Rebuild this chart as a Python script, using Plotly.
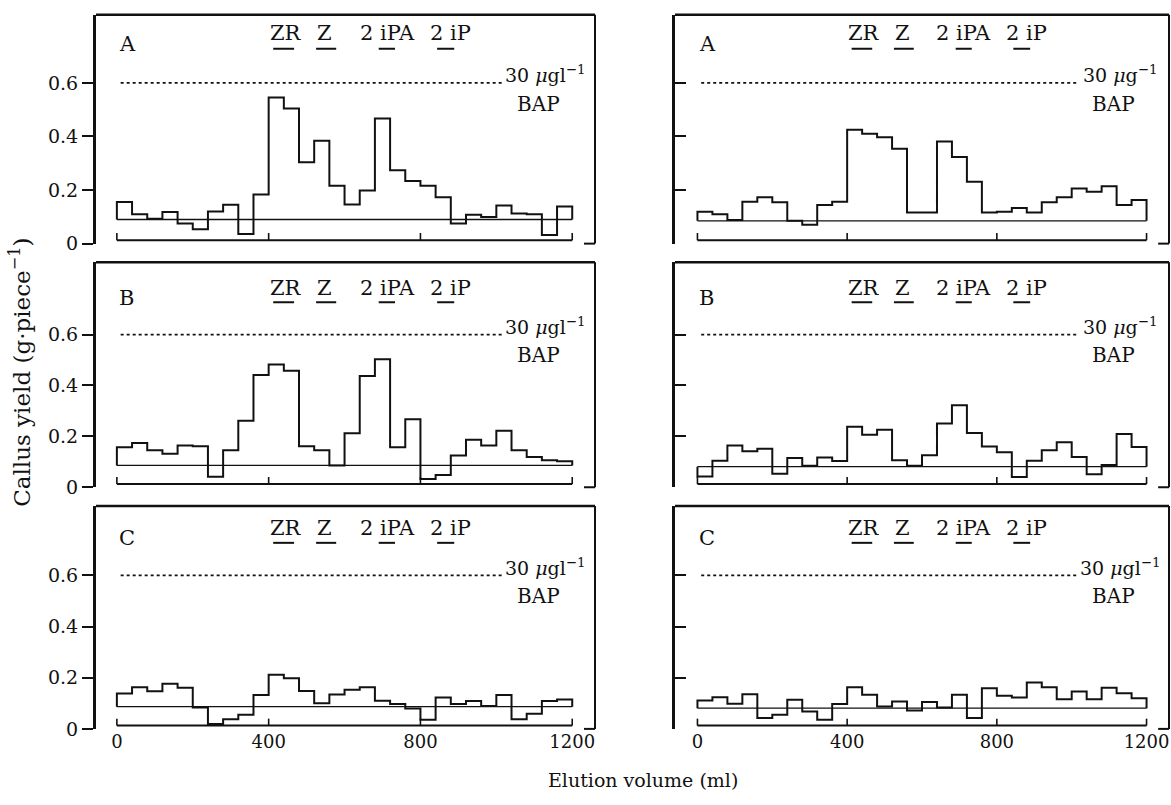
import plotly.graph_objects as go

# ---------------- data ----------------
bin_edges_ml = [0, 40, 80, 120, 160, 200, 240, 280, 320, 360, 400, 440, 480, 520, 560,
                600, 640, 680, 720, 760, 800, 840, 880, 920, 960, 1000, 1040, 1080,
                1120, 1160, 1200]

yield_left_A = [0.155, 0.110, 0.093, 0.118, 0.075, 0.054, 0.120, 0.145, 0.036, 0.183,
                0.545, 0.504, 0.304, 0.384, 0.216, 0.146, 0.198, 0.467, 0.274, 0.234,
                0.216, 0.173, 0.075, 0.108, 0.099, 0.142, 0.112, 0.110, 0.032, 0.139]
yield_right_A = [0.119, 0.110, 0.088, 0.156, 0.173, 0.154, 0.085, 0.070, 0.144, 0.156,
                 0.425, 0.410, 0.397, 0.354, 0.116, 0.116, 0.381, 0.323, 0.231, 0.116,
                 0.119, 0.133, 0.116, 0.154, 0.173, 0.206, 0.194, 0.214, 0.144, 0.163]
yield_left_B = [0.157, 0.174, 0.145, 0.132, 0.164, 0.161, 0.041, 0.145, 0.261, 0.441,
                0.483, 0.458, 0.161, 0.145, 0.086, 0.212, 0.437, 0.503, 0.157, 0.267,
                0.032, 0.048, 0.125, 0.187, 0.164, 0.222, 0.145, 0.119, 0.106, 0.102]
yield_right_B = [0.042, 0.104, 0.164, 0.142, 0.151, 0.053, 0.115, 0.085, 0.117, 0.103,
                 0.238, 0.206, 0.226, 0.106, 0.085, 0.126, 0.251, 0.322, 0.213, 0.160,
                 0.138, 0.040, 0.104, 0.145, 0.177, 0.119, 0.051, 0.087, 0.209, 0.158]
yield_left_C = [0.138, 0.163, 0.147, 0.176, 0.161, 0.084, 0.019, 0.038, 0.055, 0.132,
                0.212, 0.198, 0.148, 0.100, 0.134, 0.153, 0.163, 0.110, 0.097, 0.080,
                0.036, 0.123, 0.097, 0.109, 0.089, 0.132, 0.038, 0.059, 0.109, 0.115]
yield_right_C = [0.111, 0.124, 0.098, 0.135, 0.043, 0.055, 0.114, 0.068, 0.036, 0.097,
                 0.163, 0.133, 0.088, 0.107, 0.072, 0.105, 0.084, 0.133, 0.043, 0.159,
                 0.130, 0.123, 0.181, 0.163, 0.116, 0.146, 0.116, 0.161, 0.139, 0.120]

control_levels = [0.090, 0.085, 0.086, 0.081, 0.087, 0.081]
panel_letters = ["A", "A", "B", "B", "C", "C"]

bap_level = 0.6
bap_extent_ml = [10, 1015]
bap_conc_labels = ["30 <i>μ</i>gl<sup>−1</sup>", "30 <i>μ</i>g<sup>−1</sup>",
                   "30 <i>μ</i>gl<sup>−1</sup>", "30 <i>μ</i>g<sup>−1</sup>",
                   "30 <i>μ</i>gl<sup>−1</sup>", "30 <i>μ</i>gl<sup>−1</sup>"]

standard_names = ["ZR", "Z", "2 iPA", "2 iP"]
standard_label_ml = [445, 548, 712, 880]
standard_marks_ml = [[412, 467], [525, 578], [690, 733], [844, 889]]

y_ticks = [0, 0.2, 0.4, 0.6]
y_tick_text = ["0", "0.2", "0.4", "0.6"]
x_ticks = [0, 400, 800, 1200]
x_tick_text = ["0", "400", "800", "1200"]

series = [yield_left_A, yield_right_A, yield_left_B, yield_right_B, yield_left_C, yield_right_C]

# ---------------- layout geometry ----------------
W, H = 1171, 805


def fx(px):
    return px / W


def fy(py):
    return 1 - py / H


col_domains = [(fx(96), fx(595)), (fx(675), fx(1169))]
row_domains = [(fy(247), fy(15)), (fy(494), fy(266)), (fy(739), fy(513))]
row_ytop = [0.854, 0.884, 0.871]
col_xrange = [[-55, 1260], [-60, 1260]]

SERIF = "DejaVu Serif"
BLACK = "#111111"

fig = go.Figure()
shapes = []
annotations = []
layout = {}

for i in range(6):
    row, col = divmod(i, 2)
    s = "" if i == 0 else str(i + 1)
    xa, ya = "x" + s, "y" + s
    vals = series[i]
    c = control_levels[i]

    xs = [bin_edges_ml[0]] + bin_edges_ml[:-1] + [bin_edges_ml[-1], bin_edges_ml[-1]]
    ys = [c] + vals + [vals[-1], c]
    fig.add_trace(go.Scatter(x=xs, y=ys, mode="lines", line=dict(color=BLACK, width=2, shape="hv"),
                             xaxis=xa, yaxis=ya, showlegend=False, hoverinfo="skip"))
    fig.add_trace(go.Scatter(x=[bin_edges_ml[0], bin_edges_ml[-1]], y=[c, c], mode="lines",
                             line=dict(color=BLACK, width=1.3), xaxis=xa, yaxis=ya,
                             showlegend=False, hoverinfo="skip"))
    fig.add_trace(go.Scatter(x=bap_extent_ml, y=[bap_level, bap_level], mode="lines",
                             line=dict(color=BLACK, width=1.6, dash="dot"), xaxis=xa, yaxis=ya,
                             showlegend=False, hoverinfo="skip"))

    bottom = row == 2
    layout["xaxis" + s] = dict(domain=list(col_domains[col]), anchor=ya, range=col_xrange[col],
                               showline=False, zeroline=False, showgrid=False,
                               ticks="", tickvals=x_ticks, ticktext=x_tick_text,
                               showticklabels=bottom, ticklabeloverflow="allow",
                               tickfont=dict(family=SERIF, size=18, color=BLACK))
    layout["yaxis" + s] = dict(domain=list(row_domains[row]), anchor=xa, range=[0, row_ytop[row]],
                               showline=True, linewidth=3, linecolor=BLACK, zeroline=False,
                               showgrid=False, tickvals=y_ticks, ticktext=y_tick_text,
                               ticks="outside" if col == 0 else "inside", ticklen=11,
                               tickwidth=2, tickcolor=BLACK, showticklabels=(col == 0),
                               ticklabeloverflow="allow",
                               tickfont=dict(family=SERIF, size=19, color=BLACK))

    dx, dy = xa + " domain", ya + " domain"
    shapes.append(dict(type="line", xref=dx, yref=dy, x0=0, x1=1, y0=1, y1=1,
                       line=dict(color=BLACK, width=2.5)))
    shapes.append(dict(type="line", xref=dx, yref=dy, x0=1, x1=1, y0=0, y1=1,
                       line=dict(color=BLACK, width=2)))
    shapes.append(dict(type="line", xref=dx, yref=dy, x0=0.978, x1=1, y0=0, y1=0,
                       line=dict(color=BLACK, width=2)))
    # inner x-axis bracket
    shapes.append(dict(type="line", xref=xa, yref=ya, x0=x_ticks[0], x1=x_ticks[-1],
                       y0=0.013, y1=0.013, line=dict(color=BLACK, width=2)))
    for t in x_ticks:
        shapes.append(dict(type="line", xref=xa, yref=ya, x0=t, x1=t, y0=0.013, y1=0.04,
                           line=dict(color=BLACK, width=1.6)))
    # standards underlines and names
    for name, lx, (m0, m1) in zip(standard_names, standard_label_ml, standard_marks_ml):
        shapes.append(dict(type="line", xref=xa, yref=ya, x0=m0, x1=m1, y0=0.727, y1=0.727,
                           line=dict(color=BLACK, width=2)))
        annotations.append(dict(xref=xa, yref=ya, x=lx, y=0.785, text=name, showarrow=False,
                                xanchor="center", yanchor="middle",
                                font=dict(family=SERIF, size=21, color=BLACK)))
    annotations.append(dict(xref=xa, yref=ya, x=0, y=0.745, text=panel_letters[i],
                            showarrow=False, xanchor="left", yanchor="middle",
                            font=dict(family=SERIF, size=21, color=BLACK)))
    annotations.append(dict(xref=xa, yref=ya, x=1128, y=0.632, text=bap_conc_labels[i],
                            showarrow=False, xanchor="center", yanchor="middle",
                            font=dict(family=SERIF, size=19, color=BLACK)))
    annotations.append(dict(xref=xa, yref=ya, x=1112, y=0.52, text="BAP",
                            showarrow=False, xanchor="center", yanchor="middle",
                            font=dict(family=SERIF, size=20, color=BLACK)))

annotations.append(dict(xref="paper", yref="paper", x=fx(20), y=fy(378), textangle=-90,
                        xanchor="center", yanchor="middle",
                        text="Callus yield (g·piece<sup>−1</sup>)", showarrow=False,
                        font=dict(family=SERIF, size=23, color=BLACK)))
annotations.append(dict(xref="paper", yref="paper", x=fx(643), y=fy(791),
                        xanchor="center", yanchor="middle",
                        text="Elution volume (ml)", showarrow=False,
                        font=dict(family=SERIF, size=19, color=BLACK)))

fig.update_layout(width=W, height=H, margin=dict(l=0, r=0, t=0, b=0),
                  paper_bgcolor="white", plot_bgcolor="white",
                  shapes=shapes, annotations=annotations, showlegend=False, **layout)

fig.write_html("out.html", config={"displayModeBar": False},
               post_script="document.body.style.margin='0';document.body.style.overflow='hidden';")
